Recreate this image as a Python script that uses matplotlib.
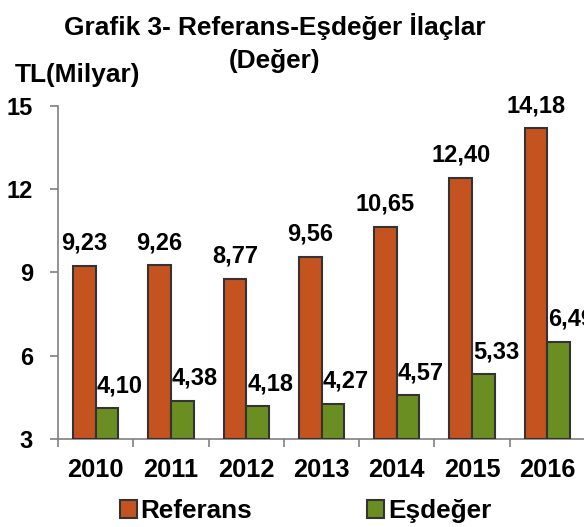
import matplotlib.pyplot as plt
import numpy as np
from matplotlib.patches import Patch

# Veriler
years = ["2010", "2011", "2012", "2013", "2014", "2015", "2016"]
referans = [9.23, 9.26, 8.77, 9.56, 10.65, 12.40, 14.18]
esdeger = [4.10, 4.38, 4.18, 4.27, 4.57, 5.33, 6.49]

c_ref = "#C4531F"
c_esd = "#6B8E23"
edge = "#333333"

plt.rcParams['font.family'] = ['Liberation Sans', 'DejaVu Sans']
plt.rcParams['font.weight'] = 'bold'

fig = plt.figure(figsize=(5.84, 5.27), dpi=100)
ax = fig.add_axes([58 / 584, 1 - 439 / 527, 527 / 584, (439 - 105.7) / 527])

x = np.arange(len(years))
w = 0.3
ax.bar(x - w / 2, [v - 3 for v in referans], w, bottom=3, color=c_ref,
       edgecolor=edge, linewidth=1.5, zorder=3)
ax.bar(x + w / 2, [v - 3 for v in esdeger], w, bottom=3, color=c_esd,
       edgecolor=edge, linewidth=1.5, zorder=3)

# Değer etiketleri
for xi, v in zip(x, referans):
    ax.text(xi - w / 2, v + 0.4, f"{v:.2f}".replace(".", ","), ha="center", va="bottom",
            fontsize=17, fontweight="bold", clip_on=False)
for xi, v in zip(x, esdeger):
    ax.text(xi + w / 2 + 0.17, v + 0.4, f"{v:.2f}".replace(".", ","), ha="center", va="bottom",
            fontsize=17, fontweight="bold", clip_on=False)

ax.set_xlim(-0.5, len(years) - 0.5)
ax.set_ylim(3, 15)
ax.set_yticks([3, 6, 9, 12, 15])
ax.set_yticklabels(["3", "6", "9", "12", "15"], fontsize=17, fontweight="bold")
ax.set_xticks(np.arange(-0.5, len(years), 1.0))
ax.set_xticklabels([])
ax.set_xticks(x, minor=True)
ax.set_xticklabels(years, minor=True, fontsize=18.3, fontweight="bold")
ax.tick_params(axis="x", which="minor", length=0, pad=14)
ax.tick_params(axis="x", which="major", length=6, color="#808080", width=1.2)
ax.tick_params(axis="y", length=6, color="#808080", width=1.2, pad=12)

for s in ["top", "right"]:
    ax.spines[s].set_visible(False)
ax.spines["left"].set_color("#808080")
ax.spines["bottom"].set_color("#808080")
ax.spines["left"].set_linewidth(1.2)
ax.spines["bottom"].set_linewidth(1.2)

fig.text(275 / 584, 1 - 26 / 527, "Grafik 3- Referans-Eşdeğer İlaçlar", ha="center", va="center",
         fontsize=18.9, fontweight="bold")
fig.text(275 / 584, 1 - 61 / 527, "(Değer)", ha="center", va="center",
         fontsize=18.9, fontweight="bold")
fig.text(15 / 584, 1 - 75 / 527, "TL(Milyar)", ha="left", va="center",
         fontsize=18.9, fontweight="bold")

handles = [Patch(facecolor=c_ref, edgecolor=edge, linewidth=1.5),
           Patch(facecolor=c_esd, edgecolor=edge, linewidth=1.5)]
fig.legend(handles, ["Referans", "Eşdeğer"], loc="center", ncol=2,
           bbox_to_anchor=(305.5 / 584, 1 - 511 / 527), frameon=False,
           prop={"size": 18.8, "weight": "bold"}, handlelength=0.65, handleheight=0.65,
           handletextpad=0.15, columnspacing=4.4, borderpad=0)

fig.savefig("out.png", dpi=100)
